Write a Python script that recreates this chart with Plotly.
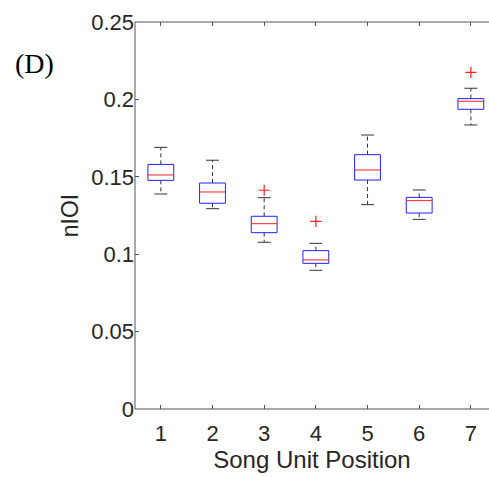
import plotly.graph_objects as go

positions = [1, 2, 3, 4, 5, 6, 7]
q1 = [0.1477, 0.1329, 0.1139, 0.0941, 0.1479, 0.1266, 0.1936]
med = [0.1512, 0.1402, 0.1197, 0.0963, 0.1544, 0.1346, 0.1988]
q3 = [0.1580, 0.1460, 0.1245, 0.1023, 0.1643, 0.1367, 0.2005]
lo = [0.1389, 0.1294, 0.1077, 0.0896, 0.1320, 0.1225, 0.1835]
hi = [0.1690, 0.1607, 0.1365, 0.1070, 0.1770, 0.1415, 0.2072]
out_x = [3, 4, 7]
out_y = [0.1413, 0.1212, 0.2175]
yticks = [0, 0.05, 0.1, 0.15, 0.2, 0.25]
ytick_labels = ["0", "0.05", "0.1", "0.15", "0.2", "0.25"]

hw = 0.25   # box half width
cw = 0.125  # cap half width

bx, by, mx, my, wx, wy, cx, cy = [], [], [], [], [], [], [], []
for p, a, m, b, l, h in zip(positions, q1, med, q3, lo, hi):
    bx += [p - hw, p + hw, p + hw, p - hw, p - hw, None]
    by += [a, a, b, b, a, None]
    mx += [p - hw, p + hw, None]
    my += [m, m, None]
    wx += [p, p, None, p, p, None]
    wy += [b, h, None, a, l, None]
    cx += [p - cw, p + cw, None, p - cw, p + cw, None]
    cy += [h, h, None, l, l, None]

fig = go.Figure()
fig.add_trace(go.Scatter(x=wx, y=wy, mode="lines",
                         line=dict(color="#333333", width=1, dash="4px,3px")))
fig.add_trace(go.Scatter(x=cx, y=cy, mode="lines",
                         line=dict(color="#333333", width=1)))
fig.add_trace(go.Scatter(x=bx, y=by, mode="lines",
                         line=dict(color="#2020ff", width=1)))
fig.add_trace(go.Scatter(x=mx, y=my, mode="lines",
                         line=dict(color="#ff2020", width=1)))
fig.add_trace(go.Scatter(x=out_x, y=out_y, mode="markers",
                         marker=dict(symbol="cross-thin", size=8,
                                     line=dict(color="#ff2020", width=1.2))))

axis_color = "#555555"
axis_font = dict(family="Liberation Sans, Arial, sans-serif", size=22, color="#262626")
fig.update_layout(
    width=489, height=477,
    margin=dict(l=135, r=0, t=22, b=68),
    paper_bgcolor="white", plot_bgcolor="white",
    showlegend=False,
    font=axis_font,
    xaxis=dict(range=[0.5, 7.351], tickvals=positions, ticktext=[str(p) for p in positions],
               ticks="inside", ticklen=4, tickcolor=axis_color,
               showline=False, mirror="ticks",
               showgrid=False, zeroline=False, ticklabelstandoff=9,
               title=dict(text="Song Unit Position", font=dict(size=24), standoff=6)),
    yaxis=dict(range=[0, 0.25], tickvals=yticks, ticktext=ytick_labels,
               ticks="inside", ticklen=4, tickcolor=axis_color,
               showline=False, mirror=False,
               showgrid=False, zeroline=False,
               title=dict(text="nIOI", font=dict(size=23), standoff=6)),
    shapes=[
        dict(type="line", xref="paper", yref="paper", x0=1, x1=1, y0=-0.01, y1=1.01,
             layer="above", line=dict(color="white", width=4)),
        dict(type="line", xref="paper", yref="paper", x0=0, x1=0, y0=0, y1=1,
             layer="above", line=dict(color=axis_color, width=1)),
        dict(type="line", xref="paper", yref="paper", x0=0, x1=1, y0=0, y1=0,
             layer="above", line=dict(color=axis_color, width=1)),
        dict(type="line", xref="paper", yref="paper", x0=0, x1=1, y0=1, y1=1,
             layer="above", line=dict(color=axis_color, width=1)),
    ],
    annotations=[dict(text="(D)", xref="paper", yref="paper", x=-0.345, y=0.894,
                      xanchor="left", yanchor="middle", showarrow=False,
                      font=dict(family="Liberation Serif, Times New Roman, serif",
                                size=28, color="black"))],
)

fig.write_html("out.html")
